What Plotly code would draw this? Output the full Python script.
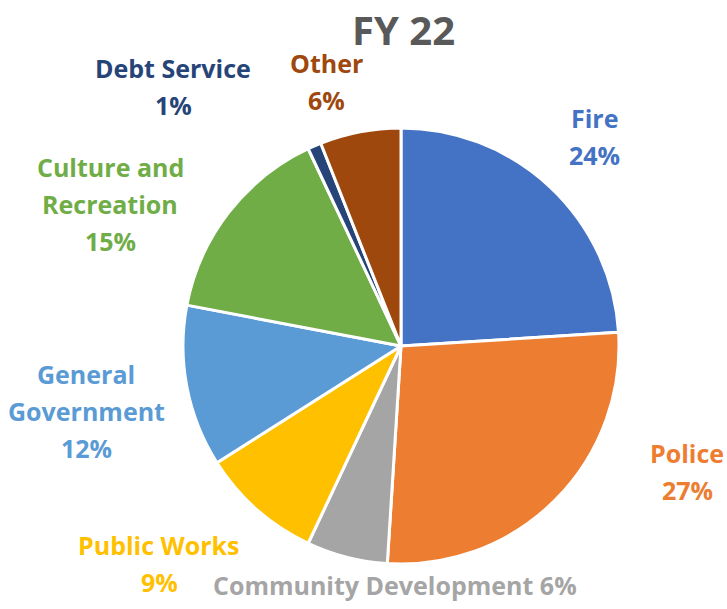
import plotly.graph_objects as go

# FY 22 expenditure shares by function
categories = ["Fire", "Police", "Community Development", "Public Works",
              "General Government", "Culture and Recreation", "Debt Service", "Other"]
shares = [24, 27, 6, 9, 12, 15, 1, 6]
colors = ["#4472C4", "#ED7D31", "#A5A5A5", "#FFC000",
          "#5B9BD5", "#70AD47", "#264478", "#9E480E"]

# Label layout: text lines for each slice label and where the block sits (pixels)
label_lines = [
    ["Fire"],
    ["Police"],
    [],
    ["Public Works"],
    ["General", "Government"],
    ["Culture and", "Recreation"],
    ["Debt Service"],
    ["Other"],
]
label_pos = [
    (594, 118), (687, 453), (395, 585), (159, 545),
    (86, 374), (110, 167), (173, 68), (326, 63),
]
LINE_GAP = 37

W, H = 727, 609

fig = go.Figure(go.Pie(
    labels=categories,
    values=shares,
    sort=False,
    direction="clockwise",
    rotation=0,
    marker=dict(colors=colors, line=dict(color="white", width=3)),
    textinfo="none",
    hoverinfo="label+percent",
    domain=dict(x=[183 / W, 619 / W], y=[1 - 564 / H, 1 - 128 / H]),
    showlegend=False,
))

annotations = []
for name, val, col, lines, (px, py) in zip(categories, shares, colors, label_lines, label_pos):
    if lines:
        texts = lines + [f"{val}%"]
    else:
        texts = [f"{name} {val}%"]
    for i, t in enumerate(texts):
        annotations.append(dict(
            text=t, x=px / W, y=1 - (py + i * LINE_GAP) / H,
            xref="paper", yref="paper", xanchor="center", yanchor="middle",
            showarrow=False,
            font=dict(family="Open Sans", size=25, color=col, weight="bold"),
        ))

annotations.append(dict(
    text="FY 22", x=403 / W, y=1, xref="paper", yref="paper",
    xanchor="center", yanchor="top", showarrow=False,
    font=dict(family="Open Sans", size=40, color="#595959", weight="bold"),
))

fig.update_layout(
    width=W, height=H,
    margin=dict(l=0, r=0, t=0, b=0),
    paper_bgcolor="white", plot_bgcolor="white",
    annotations=annotations,
)

fig.write_html("out.html")
